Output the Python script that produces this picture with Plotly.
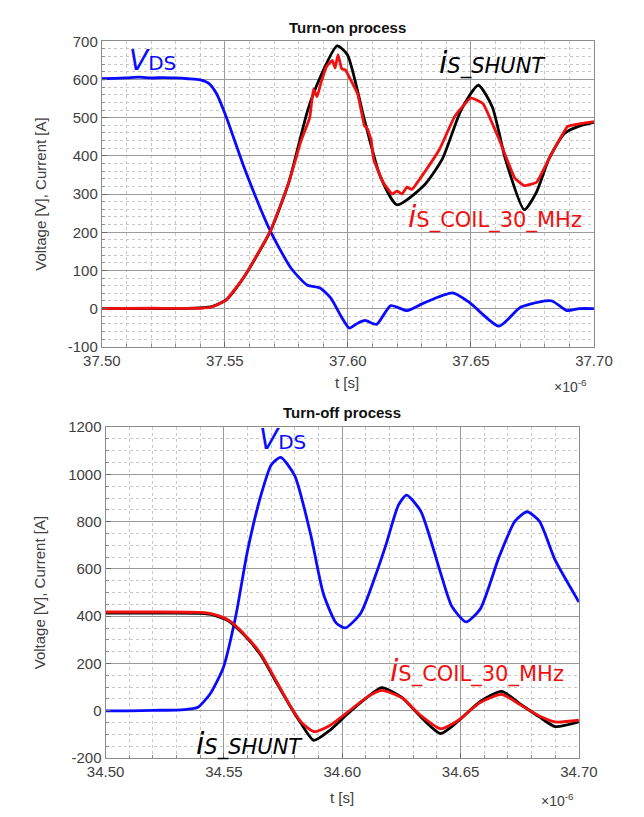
import plotly.graph_objects as go

# ---------------- Turn-on process (time in microseconds) ----------------
on_t_vds = [37.500, 37.505, 37.510, 37.515, 37.520, 37.525, 37.530, 37.535, 37.540, 37.5435,
            37.5467, 37.5505, 37.558, 37.5685, 37.577, 37.5834, 37.5887, 37.593, 37.5975, 37.6006,
            37.604, 37.607, 37.6117, 37.6174, 37.624, 37.631, 37.6426, 37.6496, 37.6614, 37.670,
            37.678, 37.683, 37.689, 37.694, 37.700]
on_vds = [602, 603, 604, 606, 604, 605, 604, 602, 599, 590,
          562, 503, 367, 203, 105, 62, 54, 28, -23, -51,
          -38, -31, -41, 8, -5, 15, 41, 15, -46, 3,
          18, 20, -5, 0, 0]

on_t_shunt = [37.500, 37.520, 37.540, 37.545, 37.5505, 37.558, 37.5685, 37.576, 37.5837, 37.5887,
              37.5956, 37.5998, 37.6067, 37.613, 37.620, 37.631, 37.6384, 37.646, 37.653, 37.6587,
              37.664, 37.6717, 37.6767, 37.6817, 37.688, 37.694, 37.700]
on_shunt = [0, 0, 2, 6, 23, 85, 203, 331, 520, 605,
            688, 665, 495, 349, 272, 323, 392, 520, 585, 528,
            392, 259, 306, 392, 459, 478, 488]

on_t_coil = [37.500, 37.520, 37.540, 37.545, 37.5505, 37.558, 37.5685, 37.576, 37.581, 37.5845,
             37.586, 37.5875, 37.589, 37.5914, 37.5937, 37.5948, 37.596, 37.5975, 37.599, 37.6013,
             37.604, 37.6067, 37.608, 37.6095, 37.6105, 37.6143, 37.618, 37.620, 37.622, 37.624,
             37.626, 37.631, 37.6373, 37.6434, 37.650, 37.655, 37.6614, 37.6679, 37.6717, 37.6767,
             37.6817, 37.6893, 37.695, 37.700]
on_coil = [0, 1, 1, 5, 22, 85, 203, 330, 440, 500,
           575, 555, 590, 635, 650, 630, 665, 628, 625, 597,
           562, 480, 470, 440, 390, 331, 300, 308, 300, 318,
           312, 356, 418, 503, 552, 536, 444, 341, 322, 331,
           392, 477, 485, 490]

on_xticks = [37.50, 37.55, 37.60, 37.65, 37.70]
on_xlabels = ["37.50", "37.55", "37.60", "37.65", "37.70"]
on_yticks = [-100, 0, 100, 200, 300, 400, 500, 600, 700]
on_ylabels = ["-100", "0", "100", "200", "300", "400", "500", "600", "700"]

# ---------------- Turn-off process (time in microseconds) ----------------
off_t_vds = [34.500, 34.510, 34.520, 34.530, 34.536, 34.539, 34.544, 34.5497, 34.555, 34.560,
             34.5656, 34.570, 34.574, 34.580, 34.5867, 34.592, 34.5974, 34.6014, 34.6078, 34.6145,
             34.6185, 34.6237, 34.6272, 34.6332, 34.6412, 34.6463, 34.6523, 34.6583, 34.6662, 34.673,
             34.6781, 34.6833, 34.690, 34.700]
off_vds = [0, 0, 2, 3, 8, 15, 69, 181, 400, 678,
           910, 1040, 1072, 993, 744, 496, 372, 351, 413, 585,
           703, 869, 912, 844, 595, 442, 376, 430, 649, 802,
           842, 802, 637, 460]

off_t_i = [34.500, 34.520, 34.540, 34.5457, 34.552, 34.5588, 34.5656, 34.572, 34.5775, 34.5827,
           34.588, 34.5946, 34.602, 34.6105, 34.6167, 34.6252, 34.6332, 34.6416, 34.6491, 34.6583,
           34.6674, 34.6753, 34.6833, 34.690, 34.700]
off_shunt = [413, 413, 412, 405, 380, 318, 235, 123, 28, -55,
             -125, -84, -15, 57, 98, 57, -26, -96, -43, 40,
             82, 28, -26, -67, -47]
off_coil = [418, 418, 416, 408, 383, 322, 240, 128, 30, -48,
            -88, -63, -8, 58, 86, 55, -20, -76, -40, 35,
            69, 25, -22, -47, -40]

off_xticks = [34.50, 34.55, 34.60, 34.65, 34.70]
off_xlabels = ["34.50", "34.55", "34.60", "34.65", "34.70"]
off_yticks = [-200, 0, 200, 400, 600, 800, 1000, 1200]
off_ylabels = ["-200", "0", "200", "400", "600", "800", "1000", "1200"]

W, H = 644, 817
def px(x):
    return x / W
def py(y):
    return 1 - y / H

BLUE = "#0a0aff"
RED = "#f01010"
BLACK = "#000000"
LW = 2.8

fig = go.Figure()

def line(color, smoothing=0.6):
    return dict(color=color, width=LW, shape="spline", smoothing=smoothing)

fig.add_trace(go.Scatter(x=on_t_vds, y=on_vds, mode="lines", line=line(BLUE), xaxis="x", yaxis="y"))
fig.add_trace(go.Scatter(x=on_t_shunt, y=on_shunt, mode="lines", line=line(BLACK), xaxis="x", yaxis="y"))
fig.add_trace(go.Scatter(x=on_t_coil, y=on_coil, mode="lines", line=line(RED, 0.3), xaxis="x", yaxis="y"))

fig.add_trace(go.Scatter(x=off_t_vds, y=off_vds, mode="lines", line=line(BLUE), xaxis="x2", yaxis="y2"))
fig.add_trace(go.Scatter(x=off_t_i, y=off_shunt, mode="lines", line=line(BLACK), xaxis="x2", yaxis="y2"))
fig.add_trace(go.Scatter(x=off_t_i, y=off_coil, mode="lines", line=line(RED), xaxis="x2", yaxis="y2"))

TICKFONT = dict(family="Liberation Sans, Arial, sans-serif", size=15, color="#404040")

def ax(domain, rng, tickvals, ticktext, minor_dtick, anchor):
    return dict(
        domain=domain, range=rng, anchor=anchor,
        tickmode="array", tickvals=tickvals, ticktext=ticktext,
        showline=True, linecolor="#8c8c8c", linewidth=1, mirror=True,
        showgrid=True, gridcolor="#9a9a9a", gridwidth=1, zeroline=False,
        ticks="inside", ticklen=5, tickcolor="#6a6a6a",
        tickfont=TICKFONT,
        minor=dict(dtick=minor_dtick, showgrid=True, gridcolor="#c8c8c8", griddash="dot",
                   gridwidth=1, ticks="inside", ticklen=3, tickcolor="#8a8a8a"),
        fixedrange=True,
    )

fig.update_layout(
    width=W, height=H,
    margin=dict(l=0, r=0, t=0, b=0),
    paper_bgcolor="white", plot_bgcolor="white",
    showlegend=False,
    xaxis=ax([px(88), px(611)], [37.50, 37.70], on_xticks, on_xlabels, 0.01, "y"),
    yaxis=ax([py(345), py(33)], [-100, 700], on_yticks, on_ylabels, 20, "x"),
    xaxis2=ax([px(92), px(595)], [34.50, 34.70], off_xticks, off_xlabels, 0.01, "y2"),
    yaxis2=ax([py(765), py(427)], [-200, 1200], off_yticks, off_ylabels, 50, "x2"),
)

TXT = "Liberation Sans, Arial, sans-serif"
LBL = "DejaVu Sans, Verdana, sans-serif"
ann = []
# titles
ann.append(dict(text="<b>Turn-on process</b>", x=px(349), y=py(19), font=dict(family=TXT, size=15, color="#111")))
ann.append(dict(text="<b>Turn-off process</b>", x=px(343), y=py(412), font=dict(family=TXT, size=15, color="#111")))
# x-axis titles
ann.append(dict(text="t [s]", x=px(349), y=py(381), font=dict(family=TXT, size=15, color="#404040")))
ann.append(dict(text="t [s]", x=px(343), y=py(805), font=dict(family=TXT, size=15, color="#404040")))
# exponents
ann.append(dict(text="×10<sup>-6</sup>", x=px(586), y=py(385), font=dict(family=TXT, size=14, color="#404040")))
ann.append(dict(text="×10<sup>-6</sup>", x=px(572), y=py(808), font=dict(family=TXT, size=14, color="#404040")))
# y-axis titles
ann.append(dict(text="Voltage [V], Current [A]", x=px(22), y=py(189), textangle=-90,
                font=dict(family=TXT, size=15, color="#404040")))
ann.append(dict(text="Voltage [V], Current [A]", x=px(22), y=py(596), textangle=-90,
                font=dict(family=TXT, size=15, color="#404040")))

def lab(main, sub, x, y, color, main_size=28, sub_size=20, italic_sub=False):
    s = f"<i>{sub}</i>" if italic_sub else sub
    return dict(text=f"<i>{main}</i><span style='font-size:{sub_size}px'>{s}</span>",
                x=px(x), y=py(y), xanchor="left",
                font=dict(family=LBL, size=main_size, color=color))

ann.append(lab("V", "DS", 115, 53, BLUE, 28, 20))
ann.append(lab("i", "S_SHUNT", 444, 55, BLACK, 30, 21, True))
ann.append(lab("i", "S_COIL_30_MHz", 411, 212, RED, 30, 21))
ann.append(lab("V", "DS", 253, 440, BLUE, 28, 20))
ann.append(lab("i", "S_SHUNT", 186, 750, BLACK, 30, 21, True))
ann.append(lab("i", "S_COIL_30_MHz", 392, 676, RED, 30, 21))

for a in ann:
    a["xref"] = "paper"
    a["yref"] = "paper"
    a["showarrow"] = False
    a["yanchor"] = "middle"
    a.setdefault("xanchor", "center")
fig.update_layout(annotations=ann)

fig.write_html("out.html")
